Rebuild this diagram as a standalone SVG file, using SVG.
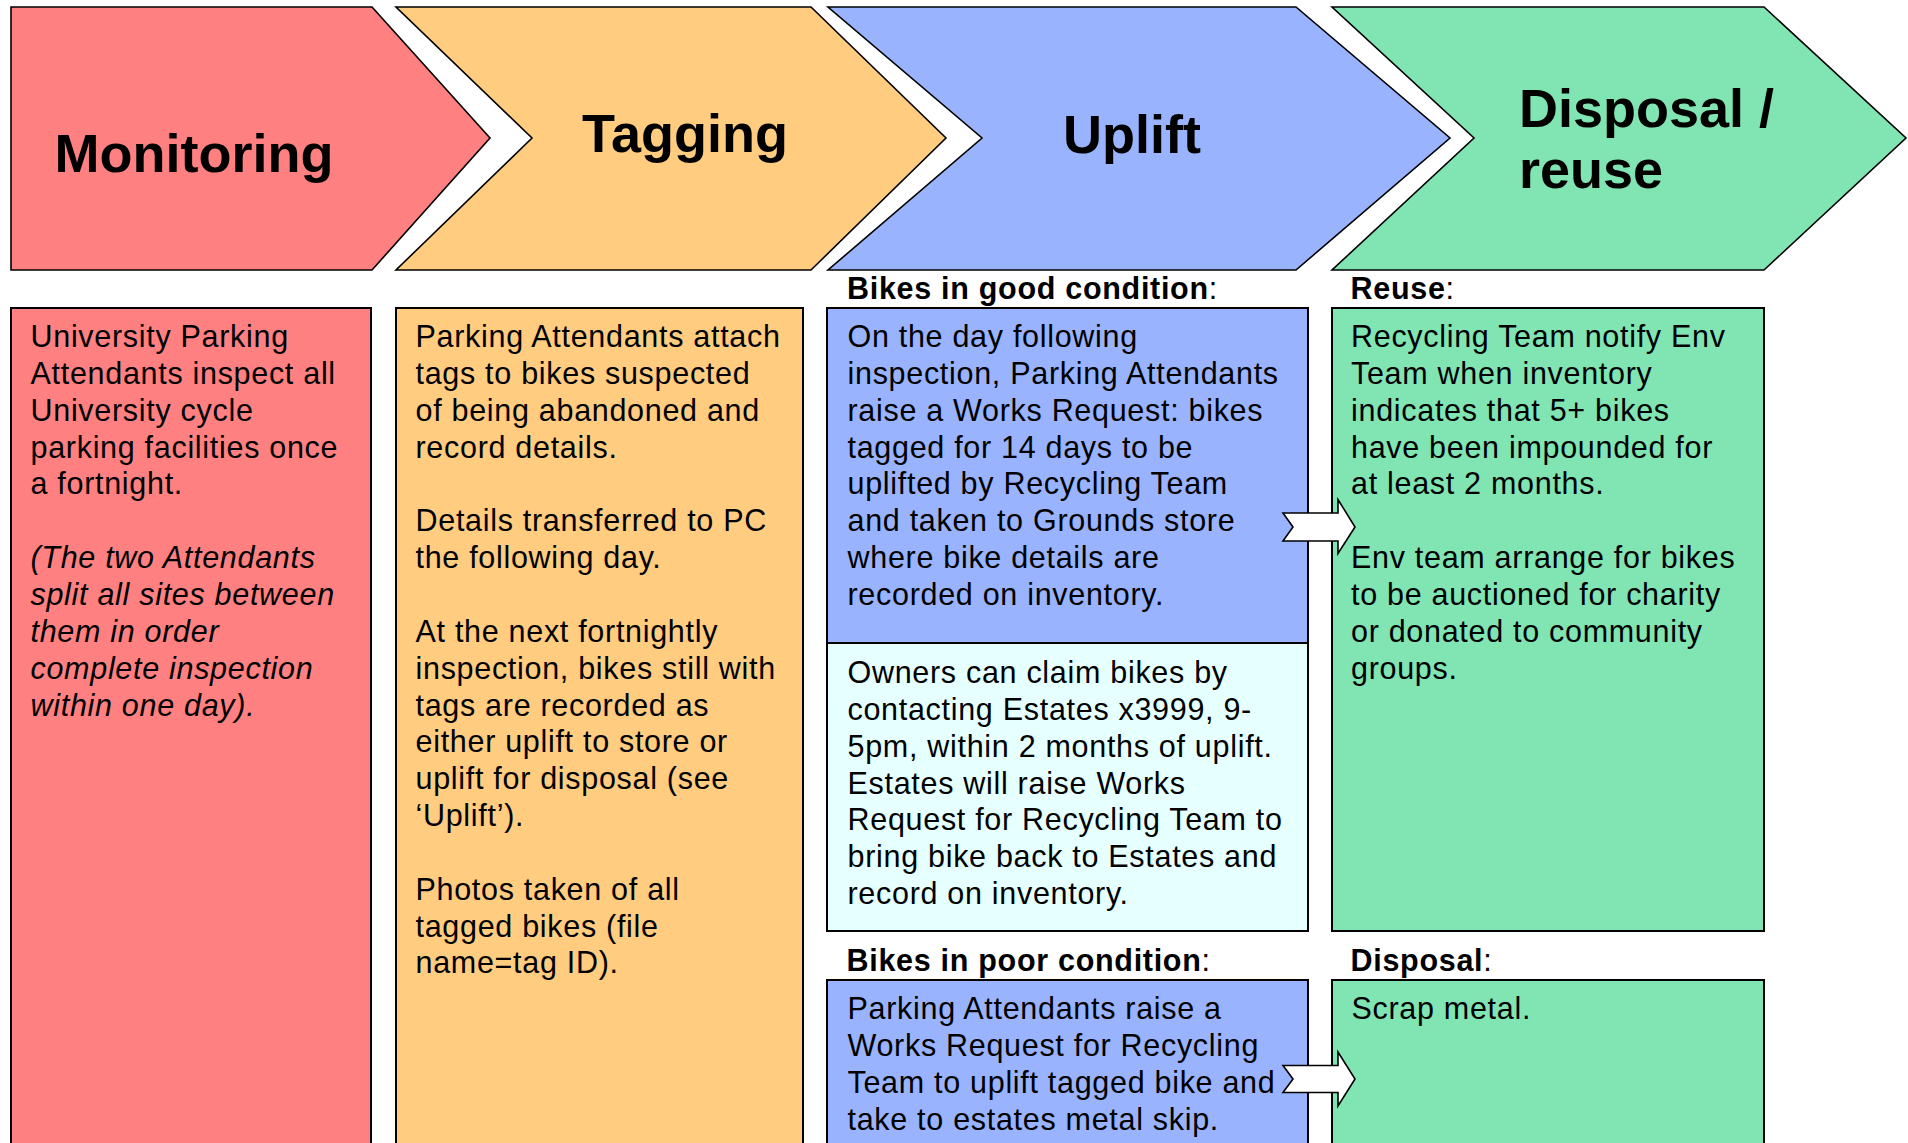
<svg xmlns="http://www.w3.org/2000/svg" width="1908" height="1143" viewBox="0 0 1908 1143">
<style>
.chev{stroke:#000;stroke-width:1.6;stroke-linejoin:miter}
.box{stroke:#000;stroke-width:2}
.title{font-family:"Liberation Sans",Arial,sans-serif;font-weight:bold;font-size:54px;fill:#000}
.body{font-family:"Liberation Sans",Arial,sans-serif;font-size:30.5px;letter-spacing:0.7px;fill:#000}
.hdr{font-family:"Liberation Sans",Arial,sans-serif;font-size:30.5px;letter-spacing:0.7px;fill:#000}
.b{font-weight:bold}
.it{font-style:italic}
.arrow{fill:#fff;stroke:#000;stroke-width:1.6;stroke-linejoin:miter}
.red{fill:#FF8080}.org{fill:#FFCC80}.blu{fill:#99B3FF}.grn{fill:#80E5B3}.cyn{fill:#E6FFFF}
</style>
<rect width="1908" height="1143" fill="#fff"/>

<g id="stage-monitoring">
<path class="chev red" d="M11 7 L372 7 L490 138 L372 270 L11 270 Z"/>
<text class="title" x="54.5" y="172">Monitoring</text>
</g>
<g id="stage-tagging">
<path class="chev org" d="M396 7 L811 7 L946 138 L811 270 L396 270 L532 138 Z"/>
<text class="title" x="582" y="152">Tagging</text>
</g>
<g id="stage-uplift">
<path class="chev blu" d="M828 7 L1296 7 L1450 138 L1296 270 L828 270 L982 138 Z"/>
<text class="title" x="1063" y="153">Uplift</text>
</g>
<g id="stage-disposal">
<path class="chev grn" d="M1332 7 L1764 7 L1906 138 L1764 270 L1332 270 L1474 138 Z"/>
<text class="title" x="1519" y="127">Disposal /</text>
<text class="title" x="1519" y="188">reuse</text>
</g>

<g id="monitoring-box">
<rect class="box red" x="11" y="308" width="360" height="860"/>
<text class="body" x="30.5" y="347">
<tspan x="30.5" y="347">University Parking</tspan>
<tspan x="30.5" y="383.85">Attendants inspect all</tspan>
<tspan x="30.5" y="420.7">University cycle</tspan>
<tspan x="30.5" y="457.55">parking facilities once</tspan>
<tspan x="30.5" y="494.4">a fortnight.</tspan>
<tspan class="it" x="30.5" y="568.1">(The two Attendants</tspan>
<tspan class="it" x="30.5" y="604.95">split all sites between</tspan>
<tspan class="it" x="30.5" y="641.8">them in order</tspan>
<tspan class="it" x="30.5" y="678.65">complete inspection</tspan>
<tspan class="it" x="30.5" y="715.5">within one day).</tspan>
</text>
</g>

<g id="tagging-box">
<rect class="box org" x="396" y="308" width="407" height="860"/>
<text class="body" x="415.5" y="347">
<tspan x="415.5" y="347">Parking Attendants attach</tspan>
<tspan x="415.5" y="383.85">tags to bikes suspected</tspan>
<tspan x="415.5" y="420.7">of being abandoned and</tspan>
<tspan x="415.5" y="457.55">record details.</tspan>
<tspan x="415.5" y="531.25">Details transferred to PC</tspan>
<tspan x="415.5" y="568.1">the following day.</tspan>
<tspan x="415.5" y="641.8">At the next fortnightly</tspan>
<tspan x="415.5" y="678.65">inspection, bikes still with</tspan>
<tspan x="415.5" y="715.5">tags are recorded as</tspan>
<tspan x="415.5" y="752.35">either uplift to store or</tspan>
<tspan x="415.5" y="789.2">uplift for disposal (see</tspan>
<tspan x="415.5" y="826.05">‘Uplift’).</tspan>
<tspan x="415.5" y="899.75">Photos taken of all</tspan>
<tspan x="415.5" y="936.6">tagged bikes (file</tspan>
<tspan x="415.5" y="973.45">name=tag ID).</tspan>
</text>
</g>

<g id="good-condition">
<text class="hdr" x="847" y="299"><tspan class="b">Bikes in good condition</tspan>:</text>
<rect class="box blu" x="827" y="308" width="481" height="335"/>
<text class="body" x="847.5" y="347">
<tspan x="847.5" y="347">On the day following</tspan>
<tspan x="847.5" y="383.85">inspection, Parking Attendants</tspan>
<tspan x="847.5" y="420.7">raise a Works Request: bikes</tspan>
<tspan x="847.5" y="457.55">tagged for 14 days to be</tspan>
<tspan x="847.5" y="494.4">uplifted by Recycling Team</tspan>
<tspan x="847.5" y="531.25">and taken to Grounds store</tspan>
<tspan x="847.5" y="568.1">where bike details are</tspan>
<tspan x="847.5" y="604.95">recorded on inventory.</tspan>
</text>
</g>

<g id="owners-claim">
<rect class="box cyn" x="827" y="643" width="481" height="288"/>
<text class="body" x="847.5" y="683">
<tspan x="847.5" y="683">Owners can claim bikes by</tspan>
<tspan x="847.5" y="719.85">contacting Estates x3999, 9-</tspan>
<tspan x="847.5" y="756.7">5pm, within 2 months of uplift.</tspan>
<tspan x="847.5" y="793.55">Estates will raise Works</tspan>
<tspan x="847.5" y="830.4">Request for Recycling Team to</tspan>
<tspan x="847.5" y="867.25">bring bike back to Estates and</tspan>
<tspan x="847.5" y="904.1">record on inventory.</tspan>
</text>
</g>

<g id="reuse">
<text class="hdr" x="1350.5" y="299"><tspan class="b">Reuse</tspan>:</text>
<rect class="box grn" x="1332" y="308" width="432" height="623"/>
<text class="body" x="1351" y="347">
<tspan x="1351" y="347">Recycling Team notify Env</tspan>
<tspan x="1351" y="383.85">Team when inventory</tspan>
<tspan x="1351" y="420.7">indicates that 5+ bikes</tspan>
<tspan x="1351" y="457.55">have been impounded for</tspan>
<tspan x="1351" y="494.4">at least 2 months.</tspan>
<tspan x="1351" y="568.1">Env team arrange for bikes</tspan>
<tspan x="1351" y="604.95">to be auctioned for charity</tspan>
<tspan x="1351" y="641.8">or donated to community</tspan>
<tspan x="1351" y="678.65">groups.</tspan>
</text>
</g>

<g id="poor-condition">
<text class="hdr" x="846.5" y="971"><tspan class="b">Bikes in poor condition</tspan>:</text>
<rect class="box blu" x="827" y="980" width="481" height="200"/>
<text class="body" x="847.5" y="1019.3">
<tspan x="847.5" y="1019.3">Parking Attendants raise a</tspan>
<tspan x="847.5" y="1056.15">Works Request for Recycling</tspan>
<tspan x="847.5" y="1093">Team to uplift tagged bike and</tspan>
<tspan x="847.5" y="1129.85">take to estates metal skip.</tspan>
</text>
</g>

<g id="disposal">
<text class="hdr" x="1350.5" y="971"><tspan class="b">Disposal</tspan>:</text>
<rect class="box grn" x="1332" y="980" width="432" height="200"/>
<text class="body" x="1351.5" y="1019.3">Scrap metal.</text>
</g>

<g id="connectors">
<path class="arrow" d="M1283 513 L1338 513 L1338 499.5 L1355 527 L1338 553.5 L1338 541 L1283 541 L1293 527 Z"/>
<path class="arrow" d="M1283 1065.5 L1338 1065.5 L1338 1052 L1355 1079 L1338 1106 L1338 1092.5 L1283 1092.5 L1293 1079 Z"/>
</g>
</svg>
